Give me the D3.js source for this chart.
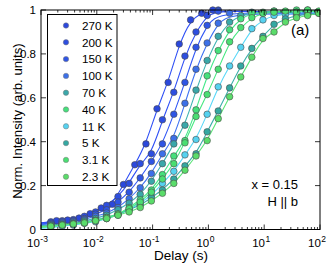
<!DOCTYPE html>
<html>
<head>
<meta charset="utf-8">
<script src="https://cdn.jsdelivr.net/npm/d3@7"></script>
<style>
  body { margin: 0; background: #fff; }
  svg text { font-family: "Liberation Sans", Arial, sans-serif; fill: #000; }
</style>
</head>
<body>
<div id="chart"></div>
<script>
// temperatures (legend order)
const labels = ["270 K", "200 K", "150 K", "100 K", "70 K", "40 K", "11 K", "5 K", "3.1 K", "2.3 K"];
const markerColors = ["#2b48dc", "#2d4ee0", "#2f55e4", "#3c70e8", "#3aa8aa", "#46e07c", "#55d2f0", "#34a8a2", "#4ade72", "#5adc6a"];
const lineColors = ["#3050f5", "#3050f5", "#3258f5", "#3f72f2", "#40b4b4", "#45e88a", "#5ad8f8", "#3cb0aa", "#48e882", "#5ce478"];

// delays (s)
const delaysA = [0.0015, 0.0024, 0.0038, 0.006, 0.0095, 0.015, 0.024, 0.038, 0.06, 0.095, 0.15, 0.24, 0.38, 0.6, 0.95, 1.5, 2.4, 3.8, 6, 9.5, 15, 24, 38, 60, 95];
const delaysB = [0.0019, 0.003, 0.0048, 0.0076, 0.012, 0.019, 0.03, 0.048, 0.076, 0.12, 0.19, 0.3, 0.48, 0.76, 1.2];

// normalized intensity per temperature
const i270 = [0.04, 0.043, 0.052, 0.072, 0.098, 0.115, 0.205, 0.295, 0.39, 0.55, 0.67, 0.845, 0.955, 0.985, 1.0];
const i200 = [0.035, 0.04, 0.045, 0.06, 0.08, 0.11, 0.15, 0.21, 0.3, 0.345, 0.5, 0.625, 0.79, 0.9, 0.975, 1.0];
const i150 = [0.03, 0.035, 0.04, 0.05, 0.07, 0.09, 0.125, 0.17, 0.235, 0.31, 0.39, 0.525, 0.67, 0.83, 0.93, 0.995];
const i100 = [0.025, 0.03, 0.035, 0.045, 0.06, 0.075, 0.1, 0.14, 0.19, 0.255, 0.345, 0.415, 0.575, 0.73, 0.85, 0.94, 0.985];
const i70 = [0.02, 0.025, 0.03, 0.04, 0.05, 0.065, 0.09, 0.12, 0.16, 0.22, 0.3, 0.39, 0.475, 0.635, 0.77, 0.88, 0.945, 0.975, 0.99, 0.985, 0.995, 0.99, 0.985, 1.0, 0.99];
const i40 = [0.012, 0.018, 0.022, 0.03, 0.04, 0.05, 0.07, 0.1, 0.135, 0.18, 0.25, 0.335, 0.405, 0.545, 0.7, 0.815, 0.91, 0.96, 0.985, 0.99, 0.995, 0.99, 1.0, 0.995, 0.99];
const i11 = [0.008, 0.015, 0.02, 0.028, 0.035, 0.05, 0.065, 0.09, 0.12, 0.155, 0.21, 0.265, 0.34, 0.41, 0.525, 0.65, 0.745, 0.83, 0.915, 0.955, 0.975, 0.98, 0.99, 0.985, 0.99];
const i5 = [0.02, 0.022, 0.028, 0.035, 0.042, 0.055, 0.07, 0.09, 0.11, 0.145, 0.18, 0.23, 0.29, 0.345, 0.445, 0.54, 0.645, 0.745, 0.825, 0.88, 0.935, 0.96, 0.975, 0.98, 0.985];
const i3p1 = [0.015, 0.02, 0.025, 0.03, 0.04, 0.055, 0.07, 0.095, 0.125, 0.17, 0.23, 0.3, 0.395, 0.515, 0.615, 0.73, 0.855, 0.92, 0.965, 0.985, 0.99, 0.995, 0.99, 1.0, 0.995];
const i2p3 = [0.015, 0.02, 0.025, 0.03, 0.04, 0.05, 0.065, 0.08, 0.1, 0.13, 0.165, 0.21, 0.27, 0.335, 0.405, 0.505, 0.605, 0.695, 0.785, 0.87, 0.9, 0.945, 0.965, 0.975, 0.985];

// fit curve ends: value at 1e-3 s and plateau at 1e2 s
const fitStart = [0.03, 0.028, 0.025, 0.022, 0.018, 0.012, 0.005, 0.012, 0.01, 0.012];
const fitEnd = [0.985, 0.985, 0.98, 0.98, 0.985, 0.99, 0.98, 0.975, 0.985, 0.975];

const xTickExp = [-3, -2, -1, 0, 1, 2];
const yTicks = [0, 0.2, 0.4, 0.6, 0.8, 1];

const seriesVals = [i270, i200, i150, i100, i70, i40, i11, i5, i3p1, i2p3];
const series = seriesVals.map((vals, k) => {
  const ds = k === 0 ? delaysB : delaysA;
  return {
    label: labels[k], color: markerColors[k], lc: lineColors[k],
    pts: vals.map((v, i) => ({t: ds[i], v: v})),
    start: fitStart[k], end: fitEnd[k]
  };
});

const W = 332, H = 265;
const mLeft = 41, mRight = 320, mTop = 10, mBottom = 229.5;

const svg = d3.select("#chart").append("svg")
  .attr("width", W).attr("height", H);

const x = d3.scaleLog().domain([1e-3, 1e2]).range([mLeft, mRight]);
const y = d3.scaleLinear().domain([0, 1]).range([mBottom, mTop]);

svg.append("clipPath").attr("id", "clip").append("rect")
  .attr("x", mLeft).attr("y", mTop - 6).attr("width", mRight - mLeft).attr("height", mBottom - mTop + 6);

const line = d3.line().x(d => x(d.t)).y(d => y(d.v)).curve(d3.curveBasis);

const marks = svg.append("g").attr("clip-path", "url(#clip)");
series.forEach(s => {
  const lpts = [{t: 1e-3, v: s.start}].concat(s.pts, [{t: 1e2, v: s.end}]);
  marks.append("path").attr("d", line(lpts))
    .attr("fill", "none").attr("stroke", s.lc).attr("stroke-width", 1.1);
});
series.forEach(s => {
  marks.selectAll(null).data(s.pts).enter().append("circle")
    .attr("cx", d => x(d.t)).attr("cy", d => y(d.v)).attr("r", 3.3)
    .attr("fill", s.color).attr("stroke", "#4a4a4a").attr("stroke-width", 0.6);
});

// axes box
svg.append("rect").attr("x", mLeft).attr("y", mTop)
  .attr("width", mRight - mLeft).attr("height", mBottom - mTop)
  .attr("fill", "none").attr("stroke", "#000").attr("stroke-width", 1);

// ticks inside the box on all sides
const tg = svg.append("g").attr("stroke", "#000").attr("stroke-width", 0.8);
x.ticks().forEach(t => {
  const major = Math.abs(Math.log10(t) - Math.round(Math.log10(t))) < 1e-9;
  const len = major ? 5 : 2.5;
  const px = x(t);
  tg.append("line").attr("x1", px).attr("x2", px).attr("y1", mBottom).attr("y2", mBottom - len);
  tg.append("line").attr("x1", px).attr("x2", px).attr("y1", mTop).attr("y2", mTop + len);
});
yTicks.forEach(v => {
  const py = y(v);
  tg.append("line").attr("x1", mLeft).attr("x2", mLeft + 5).attr("y1", py).attr("y2", py);
  tg.append("line").attr("x1", mRight).attr("x2", mRight - 5).attr("y1", py).attr("y2", py);
});

// tick labels
xTickExp.forEach(e => {
  const txt = svg.append("text").attr("x", x(Math.pow(10, e)) + (e < 0 ? -3.5 : -3)).attr("y", 247)
    .attr("text-anchor", "middle").attr("font-size", 11.5);
  txt.append("tspan").text("10");
  txt.append("tspan").attr("dy", -5).attr("dx", 0.5).attr("font-size", 8.5)
    .text(e < 0 ? "-" + (-e) : e);
});
yTicks.forEach(v => {
  svg.append("text").attr("x", 36).attr("y", y(v) + 4)
    .attr("text-anchor", "end").attr("font-size", 11.5)
    .text(v === 0 ? "0" : v === 1 ? "1" : d3.format(".1f")(v));
});

// axis titles
svg.append("text").attr("x", 181).attr("y", 260).attr("text-anchor", "middle")
  .attr("font-size", 13.5).text("Delay (s)");
svg.append("text").attr("transform", "translate(22,121) rotate(-90)")
  .attr("text-anchor", "middle").attr("font-size", 13.2).text("Norm. Intensity (arb. units)");

// annotations
svg.append("text").attr("x", 291).attr("y", 35).attr("font-size", 15).text("(a)");
svg.append("text").attr("x", 298).attr("y", 189).attr("text-anchor", "end")
  .attr("font-size", 13).text("x = 0.15");
svg.append("text").attr("x", 298).attr("y", 206).attr("text-anchor", "end")
  .attr("font-size", 13).text("H || b");

// legend
const lg = svg.append("g");
lg.append("rect").attr("x", 47.5).attr("y", 14.5).attr("width", 69.5).attr("height", 171)
  .attr("fill", "#fff").attr("stroke", "#000").attr("stroke-width", 1);
series.forEach((s, i) => {
  const ly = 25.5 + i * 16.8;
  lg.append("circle").attr("cx", 66).attr("cy", ly).attr("r", 2.7)
    .attr("fill", s.color).attr("stroke", "#777").attr("stroke-width", 0.5);
  lg.append("text").attr("x", 82).attr("y", ly + 4.2).attr("font-size", 11.7).text(s.label);
});
</script>
</body>
</html>
